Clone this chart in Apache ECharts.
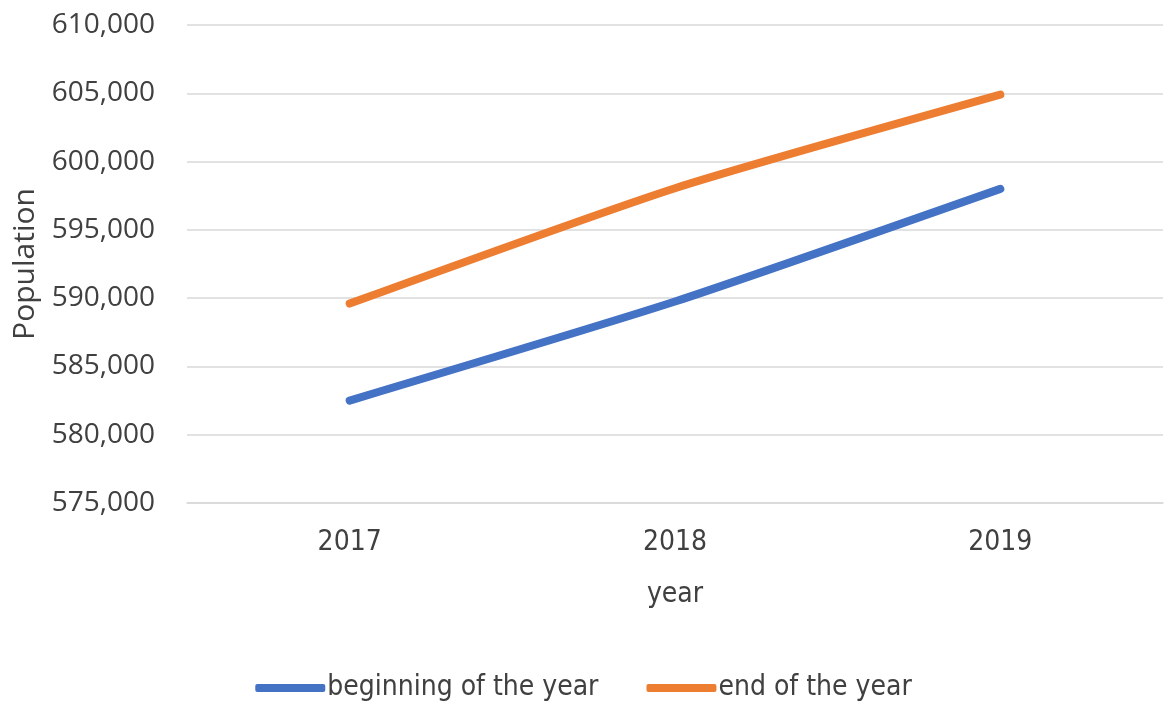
<!DOCTYPE html>
<html>
<head>
<meta charset="utf-8">
<script src="https://cdn.jsdelivr.net/npm/echarts@6/dist/echarts.min.js"></script>
<style>
  html, body { margin: 0; padding: 0; background: #ffffff; }
  #chart { width: 1167px; height: 702px; }
</style>
</head>
<body>
<div id="chart"></div>
<script>
// Population at the beginning and end of each year
const years = ['2017', '2018', '2019'];
const beginningOfYear = [582500, 589750, 598000];
const endOfYear = [589600, 598050, 604900];
const seriesNames = ['beginning of the year', 'end of the year'];
const yTicks = { min: 575000, max: 610000, step: 5000 };

const textColor = '#404040';
const gridColor = '#d9d9d9';
const narrowFont = '"DejaVu Sans Condensed", sans-serif';

const chart = echarts.init(document.getElementById('chart'), null, { renderer: 'canvas' });

chart.setOption({
  animation: false,
  backgroundColor: '#ffffff',
  grid: { left: 187, right: 4, top: 25, bottom: 199, containLabel: false, outerBoundsMode: 'none' },
  xAxis: {
    type: 'category',
    data: years,
    boundaryGap: true,
    name: 'year',
    nameLocation: 'middle',
    nameGap: 78,
    nameTextStyle: { fontFamily: narrowFont, fontSize: 28, color: textColor },
    axisLine: { show: true, lineStyle: { color: gridColor, width: 1.5 } },
    axisTick: { show: false },
    axisLabel: { fontFamily: narrowFont, fontSize: 28, color: textColor, margin: 26 }
  },
  yAxis: {
    type: 'value',
    min: yTicks.min,
    max: yTicks.max,
    interval: yTicks.step,
    name: 'Population',
    nameLocation: 'middle',
    nameGap: 147,
    nameTextStyle: { fontFamily: '"Open Sans", sans-serif', fontSize: 30, color: textColor },
    axisLine: { show: false },
    axisTick: { show: false },
    splitLine: { show: true, lineStyle: { color: gridColor, width: 1.5 } },
    axisLabel: {
      fontFamily: '"Open Sans", sans-serif',
      fontSize: 28,
      color: textColor,
      margin: 32,
      formatter: v => v.toLocaleString('en-US')
    }
  },
  legend: {
    top: 669,
    left: 'center',
    itemWidth: 70,
    itemHeight: 8,
    itemGap: 48,
    icon: 'roundRect',
    textStyle: { fontFamily: narrowFont, fontSize: 28, color: textColor, padding: [0, 0, 0, -3] },
    data: seriesNames
  },
  series: [
    {
      name: seriesNames[0],
      type: 'line',
      data: beginningOfYear,
      smooth: 0.2,
      symbol: 'none',
      lineStyle: { color: '#4472C4', width: 8, cap: 'round' },
      itemStyle: { color: '#4472C4' }
    },
    {
      name: seriesNames[1],
      type: 'line',
      data: endOfYear,
      smooth: 0.2,
      symbol: 'none',
      lineStyle: { color: '#ED7D31', width: 8, cap: 'round' },
      itemStyle: { color: '#ED7D31' }
    }
  ]
});
</script>
</body>
</html>
